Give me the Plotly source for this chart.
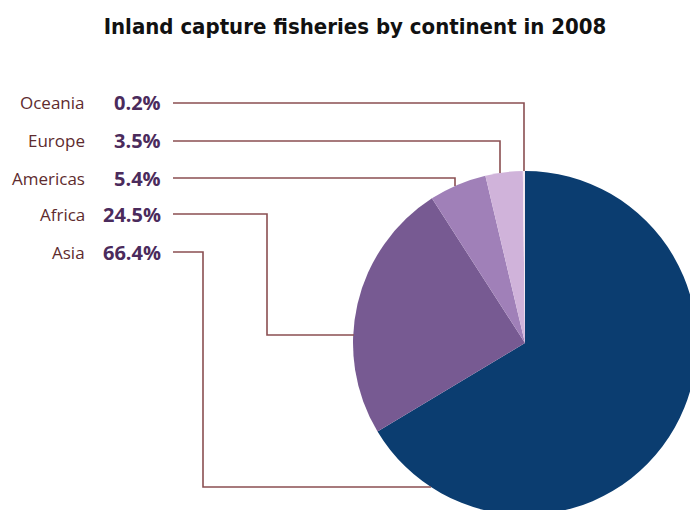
import plotly.graph_objects as go

# Share of inland capture fisheries production, 2008 (%)
continents = ["Asia", "Africa", "Americas", "Europe", "Oceania"]
shares = [66.4, 24.5, 5.4, 3.5, 0.2]
slice_colors = ["#0b3d70", "#775a92", "#a080b8", "#d0b3da", "#f4e8f2"]

# Label rows, listed top to bottom
label_order = ["Oceania", "Europe", "Americas", "Africa", "Asia"]

W, H = 700, 520          # figure size in px (slightly larger than the view, pie runs off the edge)
CX, CY, R = 525, 343, 172  # pie centre and radius in px

def px(x):
    return x / W

def py(y):
    return 1 - y / H

fig = go.Figure()

fig.add_trace(go.Pie(
    labels=continents,
    values=shares,
    sort=False,
    direction="clockwise",
    rotation=0,
    marker=dict(colors=slice_colors, line=dict(width=0)),
    textinfo="none",
    hoverinfo="label+percent",
    showlegend=False,
    domain=dict(x=[px(CX - R), px(CX + R)], y=[py(CY + R), py(CY - R)]),
))

row_y = {"Oceania": 103, "Europe": 141, "Americas": 178, "Africa": 214, "Asia": 252}

# Elbow connectors from each label to its slice
connectors = {
    "Oceania": [(173, 103), (524, 103), (524, 171)],
    "Europe": [(173, 141), (500, 141), (500, 173)],
    "Americas": [(173, 178), (455, 178), (455, 186)],
    "Africa": [(173, 214), (267, 214), (267, 335), (354, 335)],
    "Asia": [(173, 252), (203, 252), (203, 487), (431, 487)],
}

line_color = "#8a4f52"
shapes = []
for name, pts in connectors.items():
    path = "M " + " L ".join(f"{px(x):.5f},{py(y):.5f}" for x, y in pts)
    shapes.append(dict(type="path", xref="paper", yref="paper", path=path,
                       line=dict(color=line_color, width=1.6)))

annotations = []
share_of = dict(zip(continents, shares))
for name in label_order:
    y = row_y[name]
    annotations.append(dict(
        x=px(87), y=py(y), xref="paper", yref="paper",
        text=name, showarrow=False, xanchor="right", yanchor="middle",
        font=dict(family="Open Sans", size=17, color="#5e2b2e"),
    ))
    annotations.append(dict(
        x=px(163), y=py(y), xref="paper", yref="paper",
        text=f"<b>{share_of[name]:.1f}%</b>", showarrow=False,
        xanchor="right", yanchor="middle",
        font=dict(family="Open Sans", size=20, color="#4b2b5c"),
    ))

fig.update_layout(
    width=W,
    height=H,
    margin=dict(l=0, r=0, t=0, b=0),
    paper_bgcolor="white",
    plot_bgcolor="white",
    title=dict(
        text="<b>Inland capture fisheries by continent in 2008</b>",
        x=px(355), xanchor="center",
        y=py(26), yanchor="middle",
        font=dict(family="DejaVu Sans Condensed, Liberation Sans Narrow, sans-serif",
                  size=22, color="#111111"),
    ),
    shapes=shapes,
    annotations=annotations,
)

fig.write_html(
    "out.html",
    config={"displayModeBar": False},
    post_script="document.documentElement.style.overflow='hidden';"
                "document.body.style.overflow='hidden';"
                "document.body.style.margin='0';",
)
